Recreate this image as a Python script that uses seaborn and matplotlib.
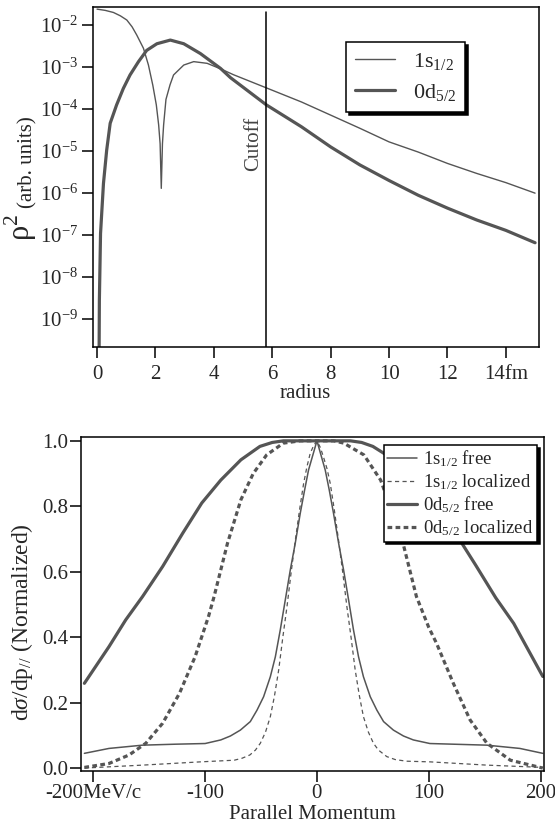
import matplotlib
matplotlib.use("Agg")
import matplotlib.pyplot as plt
import matplotlib.ticker as mtick
import seaborn as sns

# --- radial densities (top panel) ---
r_1s = [0.0, 0.28, 0.56, 0.8, 1.02, 1.2, 1.36, 1.59, 1.76, 1.91, 2.03, 2.11,
        2.16, 2.2, 2.24, 2.28, 2.36, 2.5, 2.62, 2.97, 3.31, 3.77, 4.23, 4.67,
        5.8, 7, 8, 9, 10, 11, 12, 13, 14, 15]
rho2_1s = [2.4e-2, 2.24e-2, 2.0e-2, 1.66e-2, 1.32e-2, 9.1e-3, 5.8e-3, 2.8e-3,
           1.12e-3, 3.7e-4, 1.26e-4, 4.2e-5, 1.5e-5, 1.3e-6, 1.5e-5, 4.2e-5,
           1.7e-4, 3.8e-4, 6.5e-4, 1.12e-3, 1.35e-3, 1.23e-3, 9.1e-4, 6.6e-4,
           3.2e-4, 1.48e-4, 7.2e-5, 3.5e-5, 1.66e-5, 9.5e-6, 5.1e-6, 2.95e-6,
           1.78e-6, 1.0e-6]

r_0d = [0.07, 0.08, 0.12, 0.22, 0.33, 0.45, 0.67, 0.9, 1.13, 1.42, 1.7, 2.05,
        2.51, 2.97, 3.54, 4.23, 4.57, 5.8, 7, 8, 9, 10, 11, 12, 13, 14, 15]
rho2_0d = [1.26e-10, 2.8e-9, 1.1e-7, 1.7e-6, 1.05e-5, 4.6e-5, 1.26e-4, 3.1e-4,
           6.5e-4, 1.35e-3, 2.5e-3, 3.6e-3, 4.4e-3, 3.6e-3, 2.1e-3, 9.3e-4,
           5.6e-4, 1.26e-4, 3.8e-5, 1.26e-5, 4.7e-6, 2.0e-6, 8.9e-7, 4.4e-7,
           2.3e-7, 1.3e-7, 6.6e-8]

cutoff_r = 5.8
radius_ticks = [0, 2, 4, 6, 8, 10, 12, 14]
radius_ticklabels = ['0', '2', '4', '6', '8', '10', '12', '14fm']

# --- momentum distributions (bottom panel) ---
p_1s_free = [-208, -186, -156, -126, -100, -86, -77.4, -68.5, -59.6, -53.6,
             -47.7, -41.7, -37.2, -32.8, -28.3, -23.8, -19.4, -14.9, -11,
             -7.5, 0, 7.4, 11, 14.8, 19.4, 23.8, 28.3, 32.7, 37.2, 41.6, 47.7,
             53.6, 59.6, 68.4, 77.4, 86.2, 101, 152, 181.5, 202]
s_1s_free = [0.045, 0.06, 0.07, 0.073, 0.075, 0.086, 0.098, 0.116, 0.142,
             0.177, 0.218, 0.279, 0.34, 0.422, 0.514, 0.606, 0.687, 0.779,
             0.85, 0.911, 1.0, 0.911, 0.85, 0.779, 0.687, 0.606, 0.514, 0.422,
             0.34, 0.279, 0.218, 0.177, 0.142, 0.116, 0.098, 0.086, 0.075,
             0.07, 0.06, 0.045]

p_1s_loc = [-208, -156, -104, -74, -67, -60, -55, -50.6, -46, -41.7, -38,
            -34.2, -30.5, -26.8, -23, -19.3, -15.5, -11.9, -9, -6, -3, 0, 3,
            5.9, 9, 11.9, 15.5, 19.3, 23, 26.8, 30.5, 34.2, 38, 41.6, 46, 50.5,
            55, 62.5, 70, 80, 101, 152, 202]
s_1s_loc = [0.0, 0.009, 0.019, 0.024, 0.03, 0.04, 0.055, 0.076, 0.11, 0.157,
            0.22, 0.3, 0.4, 0.493, 0.6, 0.697, 0.79, 0.87, 0.92, 0.962, 0.985,
            1.0, 0.98, 0.95, 0.915, 0.87, 0.79, 0.697, 0.6, 0.493, 0.4, 0.3,
            0.22, 0.157, 0.11, 0.076, 0.055, 0.035, 0.026, 0.021, 0.019, 0.009,
            0.002]

p_0d_free = [-208, -186, -171, -156, -138, -120, -103, -86, -68, -51, -40,
             -30, -15, 0, 15, 30, 40, 50, 70, 90, 107, 125, 142, 160, 176, 202]
s_0d_free = [0.259, 0.371, 0.453, 0.524, 0.616, 0.718, 0.81, 0.88, 0.942,
             0.983, 0.995, 1.0, 1.0, 1.0, 1.0, 1.0, 0.995, 0.983, 0.94, 0.87,
             0.8, 0.712, 0.62, 0.52, 0.442, 0.28]

p_0d_loc = [-208, -186, -168, -153, -138, -123, -109, -97, -92, -80, -68, -57,
            -45, -30, -15, 0, 15, 24, 42, 57, 77, 89, 100, 107, 122, 137, 152,
            173, 202]
s_0d_loc = [0.002, 0.014, 0.04, 0.076, 0.137, 0.228, 0.34, 0.463, 0.524,
            0.687, 0.82, 0.9, 0.957, 0.993, 1.0, 1.0, 1.0, 0.993, 0.957, 0.88,
            0.687, 0.524, 0.43, 0.381, 0.259, 0.147, 0.076, 0.024, 0.0]

mom_ticks = [-200, -100, 0, 100, 200]
mom_ticklabels = ['-200MeV/c', '-100', '0', '100', '200']
sigma_ticks = [0.0, 0.2, 0.4, 0.6, 0.8, 1.0]

# style
sns.set_style("ticks")
plt.rcParams['font.family'] = ['Liberation Serif', 'DejaVu Serif']
plt.rcParams['mathtext.fontset'] = 'custom'
plt.rcParams['mathtext.rm'] = 'Liberation Serif'
plt.rcParams['mathtext.it'] = 'Liberation Serif:italic'
plt.rcParams['lines.scale_dashes'] = False
plt.rcParams['axes.linewidth'] = 1.1
plt.rcParams['axes.edgecolor'] = 'black'

line_col = '#555555'
fs = 15

fig = plt.figure(figsize=(5.55, 8.27), dpi=100)

# top panel
ax1 = fig.add_axes([0.168, 0.580, 0.804, 0.4115])
sns.lineplot(x=r_1s, y=rho2_1s, ax=ax1, color=line_col, lw=1.0,
             label='1s$_{1/2}$', sort=False)
sns.lineplot(x=r_0d, y=rho2_0d, ax=ax1, color=line_col, lw=2.3,
             label='0d$_{5/2}$', sort=False)
ax1.set_yscale('log')
ax1.axvline(cutoff_r, ymin=0, ymax=0.985, color='black', lw=1.1)
ax1.text(cutoff_r - 0.45, 1.5e-5, 'Cutoff', rotation=90, ha='center',
         va='center', fontsize=15, color='#444444')
ax1.set_xlim(-0.13, 15.15)
ax1.set_ylim(10 ** -9.67, 10 ** -1.57)
ax1.set_xticks(radius_ticks, radius_ticklabels)
ax1.yaxis.set_major_locator(mtick.LogLocator(base=10, numticks=20))
ax1.yaxis.set_major_formatter(mtick.LogFormatterMathtext())
ax1.yaxis.set_minor_locator(mtick.NullLocator())
ax1.tick_params(direction='out', length=8, width=1.1, labelsize=fs,
                color='black', pad=3)
ax1.tick_params(axis='x', pad=5)
ax1.set_xlabel('radius', fontsize=fs)
ax1.xaxis.set_label_coords(0.475, -0.108)
ax1.set_ylabel('')
fig.text(0.038, 0.7255, 'ρ$^{2}$', rotation=90, ha='center', va='center',
         fontsize=22)
fig.text(0.051, 0.804, '(arb. units)', rotation=90, ha='center', va='center',
         fontsize=fs)
leg1 = ax1.legend(loc='upper left', bbox_to_anchor=(0.567, 0.897),
                  borderaxespad=0, fontsize=16, handlelength=1.8,
                  labelspacing=0.45, fancybox=False, framealpha=1,
                  edgecolor='black',
                  shadow={'color': 'black', 'alpha': 1, 'ox': 2, 'oy': -2})
leg1.get_frame().set_linewidth(1.1)

# bottom panel
ax2 = fig.add_axes([0.146, 0.0677, 0.834, 0.404])
sns.lineplot(x=p_1s_free, y=s_1s_free, ax=ax2, color=line_col, lw=1.1,
             label='1s$_{1/2}$ free', sort=False)
sns.lineplot(x=p_1s_loc, y=s_1s_loc, ax=ax2, color=line_col, lw=0.9,
             linestyle=(0, (3.0, 2.4)), label='1s$_{1/2}$ localized',
             sort=False)
sns.lineplot(x=p_0d_free, y=s_0d_free, ax=ax2, color=line_col, lw=2.3,
             label='0d$_{5/2}$ free', sort=False)
sns.lineplot(x=p_0d_loc, y=s_0d_loc, ax=ax2, color=line_col, lw=2.3,
             linestyle=(0, (3.4, 2.4)), label='0d$_{5/2}$ localized',
             sort=False)
ax2.set_xlim(-211, 203)
ax2.set_ylim(-0.009, 1.012)
ax2.set_xticks(mom_ticks, mom_ticklabels)
ax2.set_yticks(sigma_ticks)
ax2.yaxis.set_major_formatter(mtick.FormatStrFormatter('%.1f'))
ax2.tick_params(direction='out', length=8, width=1.1, labelsize=fs,
                color='black', pad=1)
ax2.set_xlabel('Parallel Momentum', fontsize=fs)
ax2.xaxis.set_label_coords(0.499, -0.102)
ax2.set_ylabel(r'd$\sigma$/dp$_{//}$ (Normalized)', fontsize=17)
ax2.yaxis.set_label_coords(-0.099, 0.446)
leg2 = ax2.legend(loc='upper right', bbox_to_anchor=(0.985, 0.976),
                  borderaxespad=0, fontsize=13.5, handlelength=1.6,
                  handletextpad=0.3, labelspacing=0.15, borderpad=0.2,
                  fancybox=False, framealpha=1, edgecolor='black',
                  shadow={'color': 'black', 'alpha': 1, 'ox': 2, 'oy': -2})
leg2.get_frame().set_linewidth(1.1)

fig.savefig('out.png', dpi=100)
